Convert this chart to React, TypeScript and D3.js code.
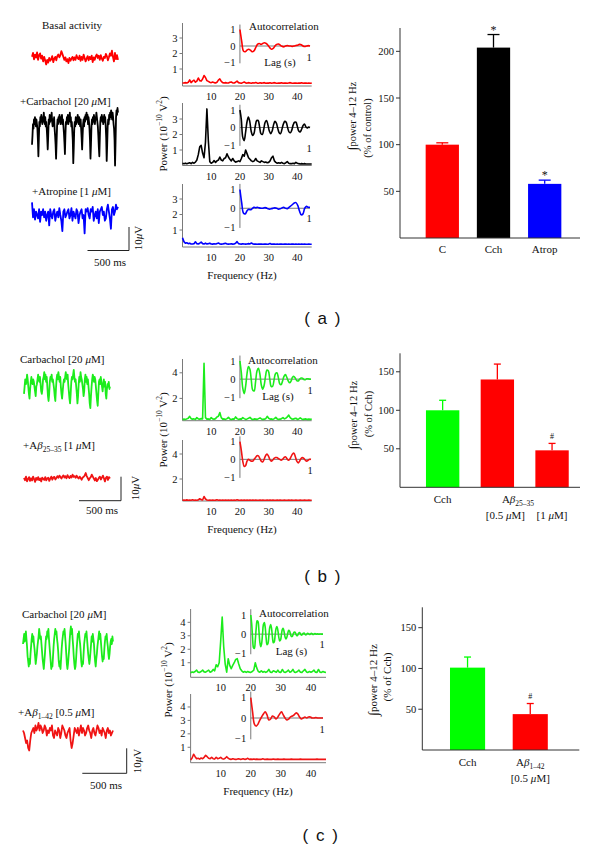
import React from "react";
import * as d3 from "d3";

const SERIF = "'Liberation Serif','Times New Roman',serif";
const SANS = "'Liberation Sans',Arial,sans-serif";

// ---------------- data ----------------
// LFP traces (µV), sampled uniformly over ~1 s
const traceBasalA = [0.5,2.2,-0.6,1.5,0.2,2.4,-0.8,1.2,2.0,-0.3,1.0,-1.5,0.5,-1.0,-2.8,-0.8,-2.0,0.0,-1.2,-0.5,0.8,-1.8,-0.3,0.5,-1.0,0.8,1.5,0.3,1.2,3.0,1.8,0.5,-0.8,0.3,-1.5,-0.5,-2.2,0.0,-1.2,-0.3,0.5,-1.0,0.3,-0.8,1.2,0.0,-0.5,1.0,-1.2,0.5,-0.8,1.5,0.0,-1.5,-0.3,0.8,-1.0,0.5,-0.5,1.0,-1.8,0.3,-0.8,0.8,1.5,0.0,1.0,-0.8,1.2,-0.3,-1.2,0.5,0.0,1.8,0.8,-1.0,0.3,2.0,1.0,3.2,0.5,-1.5,2.2,-0.5,1.2,-0.8];
const traceCchA = [-6,-2,3,1,5,3,6,4,2,5,3,1,-4,-11,-3,4,2,6,4,7,5,3,6,4,8,5,3,6,2,4,1,-3,-8,-2,5,3,7,4,6,5,8,4,2,5,3,6,1,-2,-6,-12,-5,2,5,3,6,4,7,5,3,6,4,7,3,5,2,-1,-5,-10,-2,4,3,6,4,7,3,6,5,8,4,6,2,4,0,-4,-14,-7,1,4,2,6,3,5,4,7,5,3,6,4,2,5,1,-3,-8,-2,3,5,2,6,4,7,6,8,5,7,3,6,4,1,-4,-12,-6,2,5,3,6,4,7,5,3,6,5,8,6,4,2,-2,-7,-11,-3,4,6,5,7,4,6,3,5,7,4,6,2,-3,-13,-6,2,5,3,7,5,8,6,9,7,5,8,6,3,1,-4,-15,-5,6,9,7,10,8];
const traceAtropA = [5.5,-1,2.5,-2,1.5,0,-1.5,2.5,-3,1.5,0,2.5,-1,1.5,-2.5,0,1.5,-4.5,2.5,0,-1.5,1.5,2.5,-2.5,0,1.5,-1,3,0,-2.5,-7,1.5,2.5,-1,0,1.5,2.5,-1.5,0,3,-2.5,1.5,0,-1.5,2.5,1.5,-3.5,0,1.5,2.5,-1.5,0,-8,2.5,1.5,3,0,-1.5,2.5,1.5,3.5,-2.5,0,1.5,-1.5,2.5,-3.5,1.5,2.5,3.5,0,1.5,-2.5,-1.5,2.5,4.5,1.5,-1.5,-6,2.5,3.5,0,1.5,4.5,2.5,3.5];
const traceCchB = [-2,1,4,2,3,6,4,1,-2,-4,0,3,5,3,2,4,3,1,-1,-3,1,2,4,6,4,3,5,2,-1,-2,0,4,5,7,4,6,3,5,1,-3,-5,-2,3,5,4,6,3,4,2,0,-3,-5,0,4,6,4,7,5,3,5,1,-2,-4,-1,2,4,3,5,7,5,4,6,2,-1,-4,-6,-2,3,5,4,6,8,5,3,4,1,-2,-6,-3,2,5,3,7,5,4,2,0,-3,-1,4,6,3,5,2,4,1,-2,-6,-8,-3,1,4,6,5,3,5,4,1,-2,-5,-7,-2,3,4,2,5,3,1,-1,2,4,1,3,-2,-4,0,2,1,3,0,1];
const traceAbB = [0.5,-0.5,1,-1,0,0.8,-0.8,0.3,-0.6,1,0,-1.2,0.5,-0.3,0.8,-0.5,0.2,-1,0.6,0,-0.4,0.8,-0.6,0.3,0.5,-0.8,0.2,1,-0.3,0.6,0.9,-0.2,0.4,1.2,0.5,1.4,0.8,0.2,1,1.5,0.6,1.2,0.3,1.6,0.8,0.4,1.3,0.6,1.8,0.9,1.2,0.5,1.4,0.7,0.2,1,0.4,-0.3,0.6,0.9,1.5,2.5,1.2,0.4,-0.5,0.3,0.8,1.8,1,0.2,-0.6,0.4,-0.9,-0.3,0.5,1,-0.2,0.6,1.4,0.3,-1,0.5,1,-0.4,0.8,0.2];
const traceCchC = [2,4,6,3,5,7,4,1,-3,-5,-7,-4,-6,-2,1,4,6,3,5,2,0,-3,-6,-4,-2,1,3,5,8,6,4,5,2,-1,-4,-6,-8,-5,-2,2,5,4,7,5,8,4,1,-2,-5,-8,-6,-7,-3,1,4,6,8,6,7,4,2,-1,-5,-7,-5,-8,-4,0,3,5,7,6,8,5,2,-2,-6,-8,-6,-3,0,4,7,9,6,8,4,1,-3,-6,-8,-7,-4,0,3,6,5,7,4,2,-1,-5,-7,-5,-6,-2,2,4,6,5,7,4,1,-2,-4,-6,-4,-1,2,5,3,6,4,2,-2,-5,-7,-4,-2,1,3,5,7,4,6,3,0,-3,-5,-3,-4,0,3,5,4,6,3,1,-2,-4,-2,1,3,4,2,5,3];
const traceAbC = [1,0,-2,-4,-3,-6,-7,-3,0,1,2,0,3,1,2,4,1,3,2,0,1,3,2,-1,1,0,2,1,3,-1,-2,1,0,-1,2,1,-2,0,3,2,1,-1,-2,0,1,2,-3,-6,-4,-1,2,1,0,2,-1,1,3,0,2,1,-1,0,2,3,1,0,-2,1,2,0,-1,1,3,2,0,1,-1,2,1,0,-2,1,2,0,1,-1,0,1];

// power spectra (10^-10 V^2), 0–45 Hz every 0.5 Hz
const FREQ_STEP = 0.5;
const FREQ_TICKS = [10, 20, 30, 40];
const specBasalA = [0.10,0.10,0.12,0.10,0.14,0.30,0.12,0.22,0.28,0.15, 0.22,0.42,0.25,0.22,0.35,0.58,0.45,0.25,0.20,0.15, 0.12,0.16,0.12,0.10,0.15,0.28,0.36,0.20,0.12,0.10, 0.12,0.10,0.10,0.14,0.16,0.10,0.10,0.15,0.22,0.12, 0.10,0.08,0.12,0.16,0.10,0.09,0.12,0.10,0.08,0.11, 0.10,0.13,0.09,0.08,0.11,0.09,0.10,0.12,0.08,0.10, 0.09,0.11,0.08,0.10,0.12,0.09,0.08,0.10,0.09,0.11, 0.08,0.10,0.09,0.08,0.10,0.12,0.09,0.08,0.10,0.09, 0.08,0.10,0.09,0.11,0.08,0.09,0.10,0.08,0.09,0.08, 0.09];
const specCchA = [0.15,0.12,0.15,0.12,0.15,0.18,0.12,0.20,0.15,0.22, 0.35,0.70,1.20,1.30,0.80,0.50,1.50,3.65,1.60,0.25, 0.15,0.20,0.32,0.20,0.30,0.35,0.55,0.35,0.30,0.45, 0.50,0.75,0.55,0.40,0.30,0.45,0.30,0.22,0.25,0.30, 0.25,0.45,0.70,0.60,1.00,0.75,0.50,0.40,0.30,0.25, 0.30,0.45,0.30,0.25,0.20,0.30,0.25,0.20,0.22,0.18, 0.20,0.30,0.50,0.60,0.30,0.20,0.15,0.18,0.15,0.20, 0.15,0.12,0.18,0.25,0.15,0.12,0.12,0.15,0.12,0.20, 0.15,0.12,0.10,0.12,0.10,0.12,0.10,0.10,0.10,0.10, 0.10];
const specAtropA = [0.50,0.25,0.15,0.18,0.12,0.15,0.10,0.10,0.12,0.24, 0.12,0.10,0.15,0.22,0.12,0.10,0.15,0.10,0.12,0.15, 0.10,0.09,0.11,0.10,0.12,0.16,0.10,0.09,0.10,0.12, 0.14,0.10,0.09,0.10,0.11,0.09,0.10,0.14,0.25,0.12, 0.10,0.09,0.11,0.10,0.09,0.10,0.12,0.10,0.16,0.10, 0.09,0.10,0.08,0.10,0.09,0.10,0.08,0.09,0.10,0.08, 0.09,0.13,0.08,0.09,0.10,0.08,0.09,0.08,0.10,0.09, 0.08,0.09,0.10,0.08,0.09,0.08,0.09,0.10,0.08,0.09, 0.08,0.09,0.08,0.10,0.08,0.09,0.08,0.08,0.09,0.08, 0.08];
const specCchB = [0.35,0.38,0.35,0.40,0.45,0.60,0.42,0.38,0.40,0.35, 0.50,0.40,0.38,0.42,0.40,4.75,0.50,0.38,0.40,0.36, 0.50,0.40,0.38,0.42,0.55,0.60,0.90,0.50,0.38,0.40, 0.36,0.42,0.52,0.40,0.36,0.40,0.38,0.55,0.42,0.36, 0.40,0.38,0.50,0.42,0.36,0.40,0.45,0.52,0.40,0.36, 0.40,0.38,0.36,0.42,0.48,0.40,0.36,0.38,0.42,0.60, 0.45,0.38,0.40,0.36,0.42,0.52,0.40,0.36,0.38,0.42, 0.50,0.40,0.45,0.55,0.70,0.50,0.40,0.38,0.42,0.45, 0.36,0.40,0.48,0.40,0.36,0.38,0.40,0.36,0.38,0.36, 0.38];
const specAbB = [0.30,0.32,0.30,0.33,0.30,0.32,0.30,0.34,0.30,0.32, 0.30,0.33,0.42,0.35,0.32,0.60,0.40,0.32,0.30,0.31, 0.30,0.32,0.30,0.31,0.34,0.30,0.32,0.30,0.31,0.30, 0.32,0.30,0.31,0.30,0.32,0.30,0.31,0.30,0.34,0.31, 0.30,0.31,0.30,0.32,0.30,0.31,0.30,0.31,0.30,0.32, 0.30,0.31,0.30,0.30,0.32,0.30,0.31,0.30,0.30,0.31, 0.30,0.32,0.30,0.31,0.30,0.30,0.31,0.30,0.32,0.30, 0.30,0.31,0.30,0.30,0.32,0.30,0.31,0.30,0.30,0.31, 0.30,0.30,0.31,0.30,0.30,0.31,0.30,0.30,0.31,0.30, 0.30];
const specCchC = [0.25,0.32,0.28,0.35,0.45,0.30,0.28,0.35,0.45,0.32, 0.30,0.38,0.45,0.30,0.35,0.50,0.40,0.85,0.70,1.00, 2.60,4.40,2.20,0.90,0.30,1.30,0.80,0.55,0.80,1.00, 1.25,1.30,0.90,0.55,0.40,0.30,0.35,0.28,0.35,0.30, 0.28,0.35,0.45,1.00,0.60,0.35,0.30,0.40,0.30,0.35, 0.28,0.35,0.50,0.30,0.28,0.40,0.35,0.30,0.45,0.30, 0.28,0.50,0.32,0.28,0.35,0.45,0.30,0.35,0.50,0.30, 0.28,0.35,0.45,0.30,0.28,0.40,0.50,0.32,0.28,0.35, 0.30,0.35,0.45,0.30,0.28,0.50,0.30,0.28,0.35,0.30, 0.28];
const specAbC = [0.05,0.20,0.48,0.30,0.15,0.18,0.12,0.20,0.15,0.25, 0.40,0.30,0.18,0.15,0.25,0.15,0.12,0.25,0.15,0.18, 0.25,0.15,0.12,0.18,0.30,0.18,0.12,0.10,0.15,0.12, 0.10,0.12,0.15,0.10,0.12,0.15,0.10,0.12,0.18,0.10, 0.12,0.10,0.13,0.10,0.12,0.10,0.11,0.10,0.15,0.10, 0.10,0.12,0.10,0.11,0.10,0.13,0.10,0.10,0.12,0.10, 0.11,0.10,0.12,0.10,0.10,0.11,0.10,0.12,0.10,0.10, 0.11,0.10,0.10,0.12,0.10,0.11,0.10,0.10,0.11,0.10, 0.10,0.11,0.10,0.10,0.12,0.10,0.10,0.11,0.10,0.10, 0.10];

// autocorrelations, lag 0–1 s (uniform steps)
const acfBasalA = [1,0.3,-0.3,-0.35,-0.25,-0.2,-0.25,-0.35,-0.3,-0.1,0.1,0.15,0.1,0.15,0.2,0.15,0.05,-0.1,-0.2,-0.15,0,0.1,0.12,0.05,-0.02,-0.05,0,0.02,0,0,-0.02,0,0.03,0.05,0.1,0.08,0,-0.03,0,0.02,0];
const acfCchA = [1,0.45,-0.55,-0.75,-0.3,0.3,0.6,0.35,-0.2,-0.45,-0.35,0.1,0.4,0.4,0.05,-0.35,-0.4,-0.1,0.3,0.4,0.15,-0.2,-0.35,-0.2,0.15,0.35,0.25,-0.05,-0.3,-0.35,-0.1,0.2,0.35,0.3,0,-0.25,-0.3,-0.15,0.15,0.3,0.3,0.05,-0.2,-0.25,-0.1,0.1,0.2,0.05,-0.02,0.02,0];
const acfAtropA = [1,0.3,-0.25,-0.3,-0.15,-0.05,-0.08,-0.02,0.05,0.03,0.05,0.02,0,0,0.03,0.02,-0.03,-0.05,-0.02,0,0.02,0,-0.05,-0.03,0.02,0.05,0,-0.02,0.05,0.12,0.2,0.28,0.3,0.15,-0.15,-0.35,-0.3,0,0.1,0.05,0.05];
const acfCchB = [1,0.35,-0.5,-0.8,-0.4,0.3,0.7,0.55,-0.05,-0.6,-0.65,-0.15,0.45,0.6,0.3,-0.3,-0.55,-0.35,0.15,0.5,0.45,0,-0.4,-0.4,-0.05,0.3,0.35,0.1,-0.25,-0.3,-0.1,0.15,0.25,0.1,-0.1,-0.2,-0.1,0.1,0.15,0.05,-0.08,-0.1,0,0.06,0.05,-0.02,-0.03,0.02,0.02,0,0];
const acfAbB = [1,0.5,-0.1,-0.4,-0.35,-0.1,0,-0.05,-0.1,-0.1,0,0.1,0.2,0.2,0.05,-0.1,-0.15,0,0.2,0.3,0.2,0,-0.1,-0.05,0.05,0.1,0.1,0.05,0,-0.05,0,0.1,0.15,0.05,-0.05,0,0.15,0.3,0.35,0.15,-0.1,-0.2,-0.1,0.05,0.1,0.05,-0.05,-0.1,-0.05,0,0];
const acfCchC = [1,0.55,-0.2,-0.7,-0.75,-0.3,0.3,0.7,0.65,0.2,-0.4,-0.65,-0.5,0,0.5,0.6,0.35,-0.2,-0.55,-0.5,-0.1,0.35,0.5,0.3,-0.15,-0.45,-0.4,-0.05,0.3,0.4,0.2,-0.15,-0.35,-0.3,0,0.25,0.3,0.1,-0.15,-0.25,-0.15,0.05,0.2,0.15,0,-0.12,-0.12,0,0.1,0.1,0,-0.08,-0.05,0.05,0.08,0.02,-0.05,-0.03,0.04,0.06,0,-0.04,0,0.05,0.03,-0.02,0,0.04,0.02,-0.02,0,0.03,0.01,0,0.02,0,0,0.01,0,0,0];
const acfAbC = [1,0.3,-0.3,-0.4,-0.3,-0.1,0.05,0.2,0.3,0.15,-0.1,-0.05,0.1,0.05,-0.05,0.05,0.2,0.3,0.15,0,-0.1,-0.05,0.05,0.1,0.15,0.25,0.2,0.05,-0.05,0,0.05,0,0.05,0.05,0,0,0.02,0,0,0,0];

// bar charts (∫power 4–12 Hz, %)
const barCatsA = ["C", "Cch", "Atrop"];
const barValsA = [100, 204, 58];
const barErrA = [2, 14, 4];
const barMarksA = ["", "*", "*"];
const barTicksA = [50, 100, 150, 200];

const barCatsB = ["Cch", "Aβ 0.5", "Aβ 1"];
const barValsB = [100, 140, 48];
const barErrB = [13, 20, 9];
const barMarksB = ["", "", "#"];
const barTicksB = [50, 100, 150];

const barCatsC = ["Cch", "Aβ1-42"];
const barValsC = [101, 44];
const barErrC = [13, 13];
const barMarksC = ["", "#"];
const barTicksC = [50, 100, 150];

// ---------------- colours ----------------
const RED = "#ff0000";
const RED2 = "#f01414";
const BLUE = "#0000ff";
const GREEN = "#00ff00";
const GREEN2 = "#1cec1c";
const AXG = "#7a7a7a";

// ---------------- components ----------------
function Trace({ data, x0, x1, y0, k, color }: any) {
  const x = d3.scaleLinear().domain([0, data.length - 1]).range([x0, x1]);
  const y = d3.scaleLinear().domain([0, 1]).range([y0, y0 - k]);
  const d = d3.line<number>().x((_, i) => x(i)).y((v) => y(v))(data) || "";
  return <path d={d} fill="none" stroke={color} strokeWidth={1.8} strokeLinejoin="round" />;
}

function ScaleBar({ x0, x1, yTop, yBot, v, h }: any) {
  return (
    <g>
      <path d={`M${x0},${yBot}H${x1}V${yTop}`} fill="none" stroke="#222" strokeWidth={1} />
      <text transform={`translate(${v[0]},${v[1]}) rotate(-90)`} textAnchor="middle" dominantBaseline="central" fontSize={11}>
        10<tspan fontStyle="italic">μ</tspan>V
      </text>
      <text x={h[0]} y={h[1]} textAnchor="middle" fontSize={11}>500 ms</text>
    </g>
  );
}

function SpecPanel({ spec, acf, color, L, ticks, auto, lag }: any) {
  const x = d3.scaleLinear().domain([0, 45]).range([L.x0, L.x45]);
  const y = d3.scaleLinear().domain([0, 1]).range([L.y0, L.y0 - L.ppu]);
  const sLine = d3.line<number>().x((_, i) => x(i * FREQ_STEP)).y((v) => y(v));
  const ax = d3.scaleLinear().domain([0, 1]).range([x(20), L.acfX1]);
  const ay = d3.scaleLinear().domain([-1, 1]).range([L.acfYm1, L.acfY1]);
  const aLine = d3
    .line<number>()
    .x((_, i) => ax(i / (acf.length - 1)))
    .y((v) => ay(v))
    .curve(d3.curveCatmullRom);
  return (
    <g>
      <line x1={x(0)} x2={x(0)} y1={L.top} y2={L.bottom} stroke={AXG} />
      <line x1={x(0)} x2={x(45)} y1={L.bottom} y2={L.bottom} stroke={AXG} />
      {ticks.map((t: number) => (
        <g key={t}>
          <line x1={x(0) - 3} x2={x(0)} y1={y(t)} y2={y(t)} stroke={AXG} />
          <text x={x(0) - 5} y={y(t)} textAnchor="end" dominantBaseline="central" fontSize={10.5}>{t}</text>
        </g>
      ))}
      {FREQ_TICKS.map((f) => (
        <text key={f} x={x(f)} y={L.bottom + 14} textAnchor="middle" fontSize={10.5}>{f}</text>
      ))}
      <path d={sLine(spec) || ""} fill="none" stroke={color} strokeWidth={1.6} strokeLinejoin="round" />
      <line x1={ax(0)} x2={ax(1)} y1={ay(0)} y2={ay(0)} stroke={AXG} />
      <line x1={ax(0)} x2={ax(0)} y1={ay(1.3)} y2={ay(-1.05)} stroke={AXG} />
      {[1, 0, -1].map((v) => (
        <text key={v} x={ax(0) - 4.5} y={ay(v)} textAnchor="end" dominantBaseline="central" fontSize={10.5}>
          {v < 0 ? "−1" : String(v)}
        </text>
      ))}
      <text x={ax(1) - 1} y={L.endY} textAnchor="middle" dominantBaseline="central" fontSize={10.5}>1</text>
      <path d={aLine(acf) || ""} fill="none" stroke={color} strokeWidth={1.6} />
      {auto && <text x={auto[0]} y={auto[1]} fontSize={11}>Autocorrelation</text>}
      {lag && <text x={lag[0]} y={lag[1]} textAnchor="middle" fontSize={11}>Lag (s)</text>}
    </g>
  );
}

function PowerLabel({ x, y }: any) {
  return (
    <text transform={`translate(${x},${y}) rotate(-90)`} textAnchor="middle" dominantBaseline="central" fontSize={11}>
      Power (10<tspan dy={-4} fontSize={7.5}>−10</tspan>
      <tspan dy={4}> V</tspan>
      <tspan dy={-4} fontSize={7.5}>2</tspan>
      <tspan dy={4}>)</tspan>
    </text>
  );
}

function BarYLabel({ l1, l2, second, fs }: any) {
  return (
    <g>
      <text transform={`translate(${l1[0]},${l1[1]}) rotate(-90)`} textAnchor="middle" dominantBaseline="central" fontSize={fs}>
        <tspan fontSize={fs + 3}>∫</tspan>power 4–12 Hz
      </text>
      <text transform={`translate(${l2[0]},${l2[1]}) rotate(-90)`} textAnchor="middle" dominantBaseline="central" fontSize={fs}>
        {second}
      </text>
    </g>
  );
}

function Bars({ cats, vals, errs, colors, marks, ticks, L }: any) {
  const x = d3.scaleBand<string>().domain(cats).range(L.band).paddingInner(L.pad).paddingOuter(L.pad / 2);
  const y = d3.scaleLinear().domain([0, L.yMax]).range([L.bottom, L.top]);
  const bw = x.bandwidth();
  return (
    <g>
      {cats.map((c: string, i: number) => {
        const cx = (x(c) as number) + bw / 2;
        const et = y(vals[i] + errs[i]);
        return (
          <g key={c}>
            <line x1={cx} x2={cx} y1={y(vals[i])} y2={et} stroke={colors[i]} strokeWidth={1.3} />
            <line x1={cx - L.cap / 2} x2={cx + L.cap / 2} y1={et} y2={et} stroke={colors[i]} strokeWidth={1.3} />
            <rect x={x(c)} y={y(vals[i])} width={bw} height={y(0) - y(vals[i])} fill={colors[i]} />
            {marks[i] === "*" && (
              <text x={cx} y={et - 1} textAnchor="middle" fontSize={12}>*</text>
            )}
            {marks[i] === "#" && (
              <text x={cx} y={et - 4.5} textAnchor="middle" fontSize={8}>#</text>
            )}
          </g>
        );
      })}
      <line x1={L.axX} x2={L.axX} y1={L.top} y2={L.bottom} stroke="#333" />
      <line x1={L.axX} x2={L.xEnd} y1={L.bottom} y2={L.bottom} stroke="#333" />
      {ticks.map((t: number) => (
        <g key={t}>
          <line x1={L.axX - 4} x2={L.axX} y1={y(t)} y2={y(t)} stroke="#333" />
          <text x={L.axX - 6} y={y(t)} textAnchor="end" dominantBaseline="central" fontSize={10.5}>{t}</text>
        </g>
      ))}
    </g>
  );
}

function bandCenter(cats: string[], L: any, i: number) {
  const x = d3.scaleBand<string>().domain(cats).range(L.band).paddingInner(L.pad).paddingOuter(L.pad / 2);
  return (x(cats[i]) as number) + x.bandwidth() / 2;
}

// ---------------- layout ----------------
const SA = [
  { x0: 182.5, x45: 311.7, y0: 84.5, ppu: 15.5, top: 23, bottom: 86, acfY1: 29.5, acfYm1: 62.5, acfX1: 310, endY: 57 },
  { x0: 182.5, x45: 311.7, y0: 165.5, ppu: 15.5, top: 103, bottom: 165.5, acfY1: 110, acfYm1: 145, acfX1: 310, endY: 148 },
  { x0: 182.5, x45: 311.7, y0: 245.5, ppu: 15.5, top: 184, bottom: 247, acfY1: 189.5, acfYm1: 227, acfX1: 310, endY: 218 },
];
const SB = [
  { x0: 182.5, x45: 311.7, y0: 424, ppu: 12.8, top: 359, bottom: 420.7, acfY1: 361, acfYm1: 397.3, acfX1: 311, endY: 390 },
  { x0: 182.5, x45: 311.7, y0: 504, ppu: 12.5, top: 440, bottom: 501, acfY1: 441.7, acfYm1: 477, acfX1: 311, endY: 470 },
];
const SC = [
  { x0: 190.6, x45: 326, y0: 676.2, ppu: 13.47, top: 609, bottom: 677.3, acfY1: 615, acfYm1: 653.3, acfX1: 323, endY: 644 },
  { x0: 190.6, x45: 326, y0: 760.7, ppu: 13.43, top: 694, bottom: 762.7, acfY1: 697.7, acfYm1: 738.3, acfX1: 323, endY: 729 },
];
const BA = { axX: 400, xEnd: 580, top: 28, bottom: 238, yMax: 225, band: [416.7, 570.3], pad: 0.35, cap: 12 };
const BB = { axX: 400, xEnd: 580, top: 353.3, bottom: 487.3, yMax: 174, band: [415.3, 579.4], pad: 0.39, cap: 7 };
const BC = { axX: 422.3, xEnd: 579.3, top: 607.3, bottom: 750, yMax: 175, band: [436.2, 561.6], pad: 0.44, cap: 7 };

export default function App() {
  return (
    <svg
      width={600}
      height={850}
      viewBox="0 0 600 850"
      style={{ position: "absolute", left: 0, top: 0, background: "#fff" }}
      fontFamily={SERIF}
      fill="#111"
    >
      {/* ===== panel (a) ===== */}
      <text x={72} y={29} textAnchor="middle" fontSize={11}>Basal activity</text>
      <Trace data={traceBasalA} x0={32} x1={118} y0={58} k={2.3} color={RED} />
      <text x={20} y={105} fontSize={11}>+Carbachol [20 <tspan fontStyle="italic">μ</tspan>M]</text>
      <Trace data={traceCchA} x0={32} x1={118} y0={131} k={2.3} color="#000" />
      <text x={32} y={195} fontSize={11}>+Atropine [1 <tspan fontStyle="italic">μ</tspan>M]</text>
      <Trace data={traceAtropA} x0={32} x1={118} y0={215} k={2.3} color={BLUE} />
      <ScaleBar x0={87.5} x1={129} yTop={227} yBot={250.5} v={[137.5, 238]} h={[110, 266]} />

      <SpecPanel spec={specBasalA} acf={acfBasalA} color={RED} L={SA[0]} ticks={[1, 2, 3]} auto={[249, 30]} lag={[280, 66]} />
      <SpecPanel spec={specCchA} acf={acfCchA} color="#000" L={SA[1]} ticks={[1, 2, 3]} />
      <SpecPanel spec={specAtropA} acf={acfAtropA} color={BLUE} L={SA[2]} ticks={[1, 2, 3]} />
      <PowerLabel x={163} y={134} />
      <text x={242} y={279} textAnchor="middle" fontSize={11}>Frequency (Hz)</text>

      <Bars cats={barCatsA} vals={barValsA} errs={barErrA} colors={[RED, "#000", BLUE]} marks={barMarksA} ticks={barTicksA} L={BA} />
      {barCatsA.map((c, i) => (
        <text key={c} x={bandCenter(barCatsA, BA, i)} y={253} textAnchor="middle" fontSize={11}>{c}</text>
      ))}
      <BarYLabel l1={[352, 116]} l2={[367, 128]} second="(% of control)" fs={10.5} />

      <text x={323} y={318} textAnchor="middle" dominantBaseline="central" fontFamily={SANS} fontSize={17} letterSpacing={1.5}>( a )</text>

      {/* ===== panel (b) ===== */}
      <text x={20} y={363} fontSize={11}>Carbachol [20 <tspan fontStyle="italic">μ</tspan>M]</text>
      <Trace data={traceCchB} x0={24} x1={110} y0={389} k={2.4} color={GREEN2} />
      <text x={23} y={449} fontSize={11}>
        +A<tspan fontStyle="italic">β</tspan>
        <tspan fontSize={7.5} dy={2.5}>25–35</tspan>
        <tspan dy={-2.5}> [1 </tspan>
        <tspan fontStyle="italic">μ</tspan>M]
      </text>
      <Trace data={traceAbB} x0={24} x1={110} y0={479} k={2.4} color={RED2} />
      <ScaleBar x0={79} x1={121} yTop={476.7} yBot={500.7} v={[135, 488]} h={[102, 514]} />

      <SpecPanel spec={specCchB} acf={acfCchB} color={GREEN2} L={SB[0]} ticks={[2, 4]} auto={[248, 364]} lag={[278, 400]} />
      <SpecPanel spec={specAbB} acf={acfAbB} color={RED2} L={SB[1]} ticks={[2, 4]} />
      <PowerLabel x={163} y={430} />
      <text x={242} y={533} textAnchor="middle" fontSize={11}>Frequency (Hz)</text>

      <Bars cats={barCatsB} vals={barValsB} errs={barErrB} colors={[GREEN, RED, RED]} marks={barMarksB} ticks={barTicksB} L={BB} />
      <text x={bandCenter(barCatsB, BB, 0)} y={503} textAnchor="middle" fontSize={11}>Cch</text>
      <text x={518} y={503} textAnchor="middle" fontSize={11}>
        A<tspan fontStyle="italic">β</tspan>
        <tspan fontSize={7.5} dy={2.5}>25–35</tspan>
      </text>
      <text x={bandCenter(barCatsB, BB, 1) + 8} y={519} textAnchor="middle" fontSize={11}>[0.5 <tspan fontStyle="italic">μ</tspan>M]</text>
      <text x={bandCenter(barCatsB, BB, 2)} y={519} textAnchor="middle" fontSize={11}>[1 <tspan fontStyle="italic">μ</tspan>M]</text>
      <BarYLabel l1={[353, 415]} l2={[368, 414]} second="(% of Cch)" fs={10.5} />

      <text x={323} y={576} textAnchor="middle" dominantBaseline="central" fontFamily={SANS} fontSize={17} letterSpacing={1.5}>( b )</text>

      {/* ===== panel (c) ===== */}
      <text x={22} y={618} fontSize={11}>Carbachol [20 <tspan fontStyle="italic">μ</tspan>M]</text>
      <Trace data={traceCchC} x0={23} x1={113} y0={649} k={2.5} color={GREEN2} />
      <text x={18} y={716} fontSize={11}>
        +A<tspan fontStyle="italic">β</tspan>
        <tspan fontSize={7.5} dy={2.5}>1–42</tspan>
        <tspan dy={-2.5}> [0.5 </tspan>
        <tspan fontStyle="italic">μ</tspan>M]
      </text>
      <Trace data={traceAbC} x0={23} x1={113} y0={733} k={2.5} color={RED2} />
      <ScaleBar x0={82.3} x1={126.7} yTop={748.3} yBot={773.3} v={[137, 761]} h={[106, 789]} />

      <SpecPanel spec={specCchC} acf={acfCchC} color={GREEN2} L={SC[0]} ticks={[1, 2, 3, 4]} auto={[259, 617]} lag={[291.5, 655]} />
      <SpecPanel spec={specAbC} acf={acfAbC} color={RED2} L={SC[1]} ticks={[1, 2, 3, 4]} />
      <PowerLabel x={168} y={680} />
      <text x={258} y={795} textAnchor="middle" fontSize={11}>Frequency (Hz)</text>

      <Bars cats={barCatsC} vals={barValsC} errs={barErrC} colors={[GREEN, RED]} marks={barMarksC} ticks={barTicksC} L={BC} />
      <text x={bandCenter(barCatsC, BC, 0)} y={766} textAnchor="middle" fontSize={11}>Cch</text>
      <text x={bandCenter(barCatsC, BC, 1)} y={766} textAnchor="middle" fontSize={11}>
        A<tspan fontStyle="italic">β</tspan>
        <tspan fontSize={7.5} dy={2.5}>1–42</tspan>
      </text>
      <text x={bandCenter(barCatsC, BC, 1)} y={782} textAnchor="middle" fontSize={11}>[0.5 <tspan fontStyle="italic">μ</tspan>M]</text>
      <BarYLabel l1={[373, 680]} l2={[387, 677]} second="(% of Cch)" fs={11} />

      <text x={321} y={835} textAnchor="middle" dominantBaseline="central" fontFamily={SANS} fontSize={17} letterSpacing={1.5}>( c )</text>
    </svg>
  );
}
